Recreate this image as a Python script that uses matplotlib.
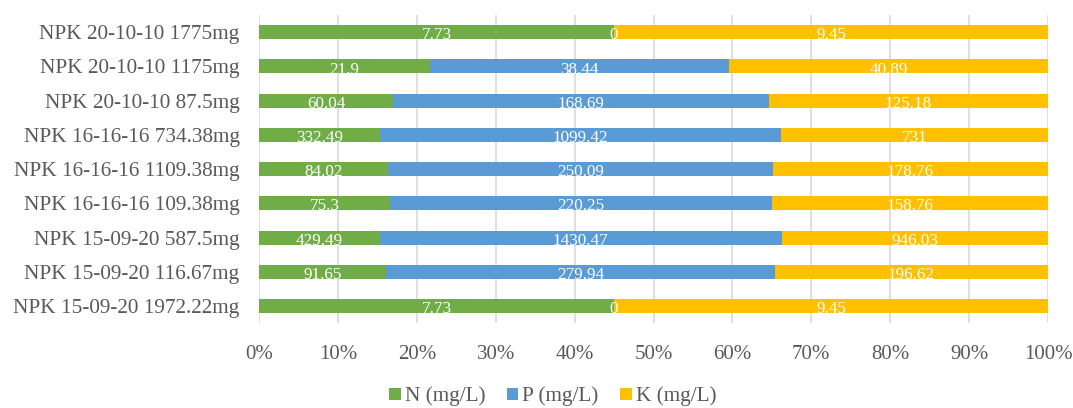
import matplotlib
matplotlib.use("Agg")
import matplotlib.pyplot as plt
import numpy as np

plt.rcParams['font.family'] = ['Liberation Serif', 'DejaVu Serif']

# Samples listed bottom to top
samples = [
    "NPK 15-09-20 1972.22mg",
    "NPK 15-09-20 116.67mg",
    "NPK 15-09-20 587.5mg",
    "NPK 16-16-16 109.38mg",
    "NPK 16-16-16 1109.38mg",
    "NPK 16-16-16 734.38mg",
    "NPK 20-10-10 87.5mg",
    "NPK 20-10-10 1175mg",
    "NPK 20-10-10 1775mg",
]
n_vals = [7.73, 91.65, 429.49, 75.3, 84.02, 332.49, 60.04, 21.9, 7.73]
p_vals = [0, 279.94, 1430.47, 220.25, 250.09, 1099.42, 168.69, 38.44, 0]
k_vals = [9.45, 196.62, 946.03, 158.76, 178.76, 731, 125.18, 40.89, 9.45]

series_names = ["N (mg/L)", "P (mg/L)", "K (mg/L)"]
colors = ["#70AD47", "#5B9BD5", "#FFC000"]

data = np.array([n_vals, p_vals, k_vals], dtype=float)
totals = data.sum(axis=0)
shares = data / totals

fig = plt.figure(figsize=(10.73, 4.08), dpi=100)
ax = fig.add_axes([0.2414, 0.208, 0.7353, 0.755])

y = np.arange(len(samples))
left = np.zeros(len(samples))
for vals, share, name, color in zip(data, shares, series_names, colors):
    ax.barh(y, share, left=left, height=0.41, color=color, label=name, zorder=2)
    for yi, (v, s, l) in enumerate(zip(vals, share, left)):
        ax.text(l + s / 2, yi - 0.09, f"{v:g}", ha="center", va="center",
                color="white", fontsize=12.3, zorder=3)
    left = left + share

ax.set_xlim(0, 1)
ax.set_ylim(-0.5, len(samples) - 0.5)
ax.set_xticks(np.linspace(0, 1, 11))
ax.set_xticklabels([f"{int(t)}%" for t in np.linspace(0, 100, 11)])
ax.set_yticks(y)
ax.set_yticklabels(samples)
ax.tick_params(axis="both", length=0, labelsize=15, colors="#595959")
ax.tick_params(axis="y", labelsize=15.3, pad=14)
ax.tick_params(axis="x", pad=16)
ax.grid(axis="x", color="#D9D9D9", linewidth=1.2, zorder=0)
for s in ax.spines.values():
    s.set_visible(False)

leg = fig.legend(loc="center", bbox_to_anchor=(0.515, 0.028), ncol=3,
                 frameon=False, fontsize=15.3, handlelength=0.55, handleheight=0.55,
                 handletextpad=0.2, columnspacing=1.0)
for t in leg.get_texts():
    t.set_color("#595959")

fig.savefig("out.png", dpi=100)
